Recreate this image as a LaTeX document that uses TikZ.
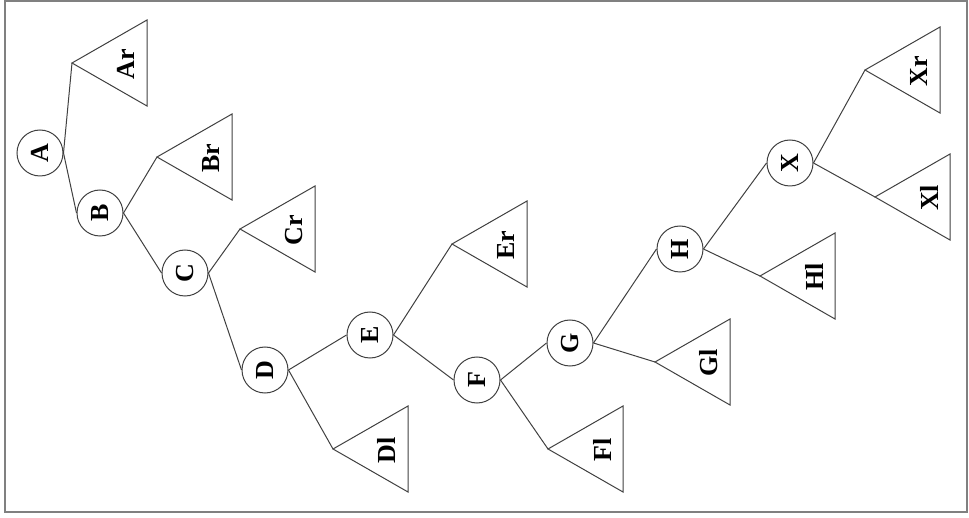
\documentclass[tikz,border=0pt]{standalone}
\usepackage{fontspec}
\setmainfont{Liberation Serif}
\usetikzlibrary{calc}

\tikzset{
  frame/.style={draw=black!50, line width=2pt},
  tnode/.style={circle, draw=black!75, line width=1pt, minimum size=46pt,
    inner sep=0pt, font=\fontsize{26}{26}\selectfont\bfseries},
  edge/.style={draw=black!75, line width=1pt},
  subtree/.style={draw=black!75, line width=1pt, line join=miter},
  sublabel/.style={font=\fontsize{26}{26}\selectfont\bfseries, rotate=90, inner sep=0pt}
}

% triangle (subtree) with its apex at the named coordinate
\newcommand{\subtri}[2]{%
  \draw[subtree] (#1) -- ++(75,-43) -- ++(0,86) -- cycle;
  \node[sublabel] (#1-lbl) at ($(#1)+(54,1)$) {#2};
}

\begin{document}
\begin{tikzpicture}[x=1pt, y=-1pt]
  \useasboundingbox (0,0) rectangle (969,518);
  \draw[frame] (5,1.5) rectangle (967,512);

  % internal nodes
  \node[tnode] (A) at (40,153) {\rotatebox{90}{A}};
  \node[tnode] (B) at (100,213) {\rotatebox{90}{B}};
  \node[tnode] (C) at (185,273) {\rotatebox{90}{C}};
  \node[tnode] (D) at (265,370) {\rotatebox{90}{D}};
  \node[tnode] (E) at (370,335) {\rotatebox{90}{E}};
  \node[tnode] (F) at (477,380) {\rotatebox{90}{F}};
  \node[tnode] (G) at (570,343) {\rotatebox{90}{G}};
  \node[tnode] (H) at (680,249) {\rotatebox{90}{H}};
  \node[tnode] (X) at (790,163) {\rotatebox{90}{X}};

  % subtree apexes
  \coordinate (Ar) at (72,63);
  \coordinate (Br) at (157,157);
  \coordinate (Cr) at (240,229);
  \coordinate (Dl) at (333,449);
  \coordinate (Er) at (452,244);
  \coordinate (Fl) at (548,449);
  \coordinate (Gl) at (655,362);
  \coordinate (Hl) at (760,276);
  \coordinate (Xl) at (875,197);
  \coordinate (Xr) at (865,70);

  \subtri{Ar}{Ar}
  \subtri{Br}{Br}
  \subtri{Cr}{Cr}
  \subtri{Dl}{Dl}
  \subtri{Er}{Er}
  \subtri{Fl}{Fl}
  \subtri{Gl}{Gl}
  \subtri{Hl}{Hl}
  \subtri{Xl}{Xl}
  \subtri{Xr}{Xr}

  % edges
  \draw[edge] (A.east) -- (Ar);
  \draw[edge] (A.east) -- (B.west);
  \draw[edge] (B.east) -- (Br);
  \draw[edge] (B.east) -- (C.west);
  \draw[edge] (C.east) -- (Cr);
  \draw[edge] (C.east) -- (D.west);
  \draw[edge] (D.east) -- (E.west);
  \draw[edge] (D.east) -- (Dl);
  \draw[edge] (E.east) -- (Er);
  \draw[edge] (E.east) -- (F.west);
  \draw[edge] (F.east) -- (G.west);
  \draw[edge] (F.east) -- (Fl);
  \draw[edge] (G.east) -- (H.west);
  \draw[edge] (G.east) -- (Gl);
  \draw[edge] (H.east) -- (X.west);
  \draw[edge] (H.east) -- (Hl);
  \draw[edge] (X.east) -- (Xr);
  \draw[edge] (X.east) -- (Xl);
\end{tikzpicture}
\end{document}
